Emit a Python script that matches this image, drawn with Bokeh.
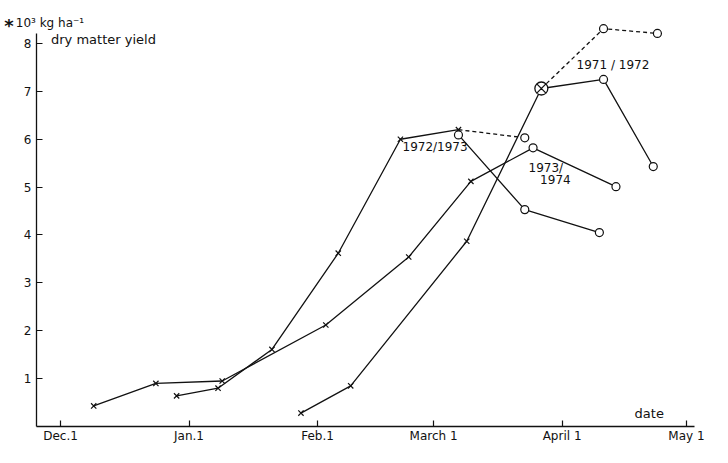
import pandas as pd
from bokeh.plotting import figure
from bokeh.models import Range1d, FixedTicker, Label
from bokeh.embed import file_html
from bokeh.resources import INLINE

# ---------------- data (dates as month-day, yields in 10^3 kg/ha) ----------------
tick_dates = ["12-01", "01-01", "02-01", "03-01", "04-01", "05-01"]
tick_labels = ["Dec.1", "Jan.1", "Feb.1", "March 1", "April 1", "May 1"]
y_ticks = [1, 2, 3, 4, 5, 6, 7, 8]

# 1973/1974
s7374_x_dates = ["12-09", "12-24", "01-09", "02-03", "02-23", "03-10"]
s7374_x_yield = [0.43, 0.90, 0.95, 2.12, 3.54, 5.12]
s7374_o_dates = ["03-10", "03-25", "04-14"]
s7374_o_yield = [5.12, 5.82, 5.01]

# 1972/1973
s7273_x_dates = ["12-29", "01-08", "01-21", "02-06", "02-21", "03-07"]
s7273_x_yield = [0.64, 0.80, 1.61, 3.62, 6.00, 6.20]
s7273_dash_dates = ["03-07", "03-23"]
s7273_dash_yield = [6.20, 6.03]
s7273_o_dates = ["03-07", "03-23", "04-10"]
s7273_o_yield = [6.09, 4.53, 4.05]

# 1971/1972
s7172_x_dates = ["01-28", "02-09", "03-09", "03-27"]
s7172_x_yield = [0.28, 0.85, 3.87, 7.06]
s7172_o_dates = ["03-27", "04-11", "04-23"]
s7172_o_yield = [7.06, 7.25, 5.43]
s7172_dash_dates = ["03-27", "04-11", "04-24"]
s7172_dash_yield = [7.06, 8.31, 8.21]

REF = pd.Timestamp("2000-12-01")


def days(md_list):
    out = []
    for md in md_list:
        m = int(md[:2])
        year = 2000 if m == 12 else 2001
        out.append((pd.Timestamp(f"{year}-{md}") - REF).days)
    return out


FONT = "DejaVu Sans"
BLACK = "#111111"
LW = 1.3

X_AXIS_START = -5.8   # where the y axis stands (days after Dec 1)
X_AXIS_END = 153.0
Y_AXIS_TOP = 8.2

p = figure(width=712, height=447,
           x_range=Range1d(-14.485, 157.29), y_range=Range1d(-0.4386, 8.898),
           output_backend="svg", toolbar_location=None,
           min_border_left=0, min_border_right=0,
           min_border_top=0, min_border_bottom=0)
p.outline_line_color = None
p.xgrid.visible = False
p.ygrid.visible = False
p.background_fill_color = "white"
p.border_fill_color = "white"

# axes
p.xaxis.ticker = FixedTicker(ticks=days(tick_dates))
p.xaxis.major_label_overrides = {d: l for d, l in zip(days(tick_dates), tick_labels)}
p.xaxis.fixed_location = 0
p.xaxis.bounds = (X_AXIS_START, X_AXIS_END)
p.yaxis.ticker = FixedTicker(ticks=y_ticks)
p.yaxis.fixed_location = X_AXIS_START
p.yaxis.bounds = (0, Y_AXIS_TOP)
for ax in (p.xaxis, p.yaxis):
    ax.major_tick_in = 6
    ax.major_tick_out = 0
    ax.minor_tick_in = 0
    ax.minor_tick_out = 0
    ax.axis_line_color = BLACK
    ax.axis_line_width = 1.3
    ax.major_tick_line_color = BLACK
    ax.major_tick_line_width = 1.2
    ax.major_label_text_font = FONT
    ax.major_label_text_font_size = "12px"
    ax.major_label_text_color = BLACK
p.xaxis.major_label_standoff = 2
p.yaxis.major_label_standoff = 5


def line(dates, vals, dash="solid"):
    p.line(days(dates), vals, line_color=BLACK, line_width=LW, line_dash=dash)


def crosses(dates, vals):
    p.scatter(days(dates), vals, marker="x", size=7.5, line_color=BLACK, line_width=1.2)


def circles(dates, vals):
    p.scatter(days(dates), vals, marker="circle", size=8, fill_color="white",
              line_color=BLACK, line_width=1.2)


# lines
line(s7374_x_dates, s7374_x_yield)
line(s7374_o_dates, s7374_o_yield)
line(s7273_x_dates, s7273_x_yield)
line(s7273_dash_dates, s7273_dash_yield, "4 3")
line(s7273_o_dates, s7273_o_yield)
line(s7172_x_dates, s7172_x_yield)
line(s7172_o_dates, s7172_o_yield)
line(s7172_dash_dates, s7172_dash_yield, "4 3")

# markers
crosses(s7374_x_dates, s7374_x_yield)
circles(s7374_o_dates[1:], s7374_o_yield[1:])
crosses(s7273_x_dates, s7273_x_yield)
circles(s7273_dash_dates[1:], s7273_dash_yield[1:])
circles(s7273_o_dates, s7273_o_yield)
crosses(s7172_x_dates[:-1], s7172_x_yield[:-1])
circles(s7172_o_dates[1:], s7172_o_yield[1:])
circles(s7172_dash_dates[1:], s7172_dash_yield[1:])
p.scatter(days(s7172_x_dates[-1:]), s7172_x_yield[-1:], marker="circle_x", size=13,
          fill_color="white", line_color=BLACK, line_width=1.3)


# text annotations
def label(x, y, text, size="12px", style="normal"):
    p.add_layout(Label(x=x, y=y, text=text, text_font=FONT, text_font_size=size,
                       text_font_style=style, text_color=BLACK,
                       text_baseline="middle", text_align="left"))


label(82.5, 5.84, "1972/1973")
label(112.9, 5.40, "1973/")
label(115.7, 5.16, "1974")
label(124.5, 7.55, "1971 / 1972")
label(138.5, 0.28, "date", size="13px")
label(-2.3, 8.08, "dry matter yield", size="13px")
label(-13.6, 8.38, "*", size="18px", style="bold")
label(-10.8, 8.43, "10\u00b3 kg ha\u207b\u00b9", size="12px")

open("out.html", "w").write(file_html(p, INLINE))
